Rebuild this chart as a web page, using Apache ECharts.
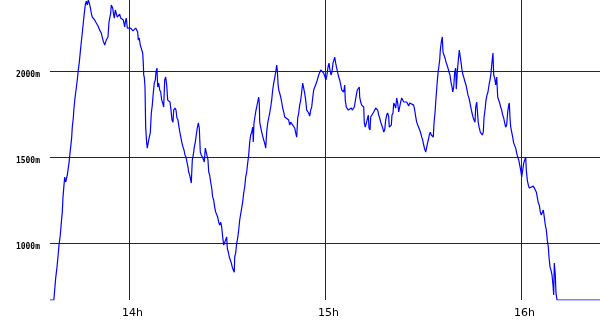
<!DOCTYPE html>
<html>
<head>
<meta charset="utf-8">
<script src="https://cdn.jsdelivr.net/npm/echarts@6/dist/echarts.min.js"></script>
<style>
html,body{margin:0;padding:0;background:#fff;}
#chart{width:600px;height:330px;}
</style>
</head>
<body>
<div id="chart"></div>
<script>
// time in minutes after 13:00
var minutes = [
35.82,37.0,37.25,37.56,37.96,38.26,38.57,38.97,39.27,39.58,
39.80,40.10,40.32,40.62,40.93,41.11,41.42,41.63,41.94,42.15,
42.46,42.64,42.95,43.16,43.47,43.78,44.17,44.48,44.79,45.09,
45.40,45.70,46.01,46.32,46.62,46.93,47.23,47.54,47.85,48.15,
48.46,48.76,49.07,49.50,49.99,50.51,51.03,51.52,52.04,52.56,
52.74,53.05,53.57,53.88,54.40,54.58,55.01,55.32,55.50,55.81,
56.11,56.42,57.15,57.46,58.25,58.68,58.87,59.17,59.48,59.91,
60.52,61.22,61.74,62.05,62.36,62.66,62.85,63.15,63.46,63.89,
64.19,64.38,64.50,64.68,64.90,65.11,65.42,65.60,65.91,66.21,
66.52,66.83,67.13,67.44,67.74,68.05,68.26,68.57,68.78,69.09,
69.40,69.70,70.01,70.32,70.62,70.93,71.23,71.54,71.85,72.55,
72.86,73.16,73.47,73.68,74.08,74.39,74.69,75.00,75.31,75.61,
75.92,76.22,76.53,76.84,77.14,77.45,77.75,78.06,78.27,78.58,
78.89,79.07,79.38,79.68,79.99,80.30,80.60,80.91,81.21,81.52,
81.83,82.13,82.44,82.74,83.05,83.36,83.66,83.97,84.18,84.40,
84.70,85.01,85.32,85.62,85.93,86.23,86.54,86.85,87.15,87.46,
87.76,88.07,88.38,88.68,88.99,89.29,89.60,89.91,90.09,90.40,
90.70,91.01,91.32,91.62,91.93,92.23,92.36,92.66,92.97,93.27,
93.58,93.89,94.50,94.80,95.11,95.42,95.72,96.03,96.33,96.64,
96.95,97.25,97.56,97.87,98.05,98.26,98.57,98.78,99.09,99.40,
99.70,99.89,100.01,100.32,100.62,100.93,101.23,101.54,101.85,102.15,
102.46,102.77,103.07,103.38,103.68,103.99,104.30,104.60,104.91,105.21,
105.40,105.61,105.83,106.13,106.44,106.74,107.05,107.36,107.66,107.97,
108.27,108.89,109.19,109.50,110.11,110.72,111.03,111.34,111.64,111.95,
112.25,112.56,112.87,113.17,113.48,113.78,114.09,114.40,115.01,115.31,
115.62,115.93,116.23,116.54,116.85,117.46,118.07,118.38,118.68,118.99,
119.60,120.00,120.31,120.61,120.92,121.22,121.53,121.84,122.14,122.45,
122.75,122.97,123.27,123.58,124.19,124.50,124.81,125.11,125.72,126.03,
126.21,126.52,126.83,127.13,127.74,128.05,128.36,128.97,129.58,129.89,
130.19,130.50,130.62,130.93,131.23,131.85,132.03,132.34,132.64,133.26,
133.47,133.78,133.99,134.60,134.91,135.52,136.13,136.44,136.74,137.05,
137.36,137.66,137.97,138.27,138.58,138.89,139.19,139.50,139.68,139.99,
140.30,140.51,140.82,141.03,141.34,141.64,141.95,142.26,142.56,143.17,
143.48,144.09,144.40,145.01,145.32,145.62,145.93,146.54,147.15,147.46,
147.77,148.07,148.38,148.68,148.99,149.30,149.60,149.91,150.21,150.52,
150.83,151.13,151.44,151.62,151.93,152.23,152.54,153.15,153.37,153.67,
153.98,154.28,154.59,154.90,155.11,155.30,155.60,155.91,156.12,156.43,
156.73,157.04,157.35,157.65,157.96,158.26,158.57,158.88,159.09,159.40,
159.70,160.01,160.19,160.50,160.81,161.11,161.42,161.63,161.94,162.24,
162.55,162.86,163.16,163.47,163.77,164.08,164.39,164.69,165.00,165.30,
165.61,165.92,166.13,166.44,166.93,167.23,167.54,167.84,168.15,168.46,
168.67,168.98,169.28,169.59,169.89,170.20,170.51,170.81,171.12,171.42,
171.64,171.95,172.25,172.56,172.87,173.17,173.48,173.78,174.09,174.40,
174.70,175.01,175.31,175.62,175.93,176.23,176.42,176.63,176.85,177.15,
177.46,177.76,178.38,178.68,178.99,179.30,179.60,179.91,180.21,180.52,
180.83,181.13,181.44,181.62,181.93,182.24,182.54,183.15,183.77,184.07,
184.38,184.68,184.99,185.30,185.60,185.91,186.21,186.83,187.13,187.44,
187.75,188.05,188.36,188.57,188.88,189.18,189.49,189.79,190.01,190.19,
190.50,190.71,191.02,204.18
];
// altitude in metres
var altitude = [
669,669,727,796,860,919,988,1047,1116,1180,
1267,1337,1384,1355,1366,1395,1405,1465,1523,1558,
1616,1674,1727,1785,1843,1890,1948,2006,2052,2110,
2169,2221,2279,2337,2384,2407,2384,2413,2395,2372,
2337,2314,2308,2297,2279,2262,2238,2221,2180,2151,
2140,2180,2198,2285,2337,2384,2366,2326,2308,2355,
2366,2314,2331,2308,2297,2256,2285,2308,2250,2256,
2250,2233,2233,2250,2256,2227,2180,2192,2151,2140,
2105,2046,1977,1965,1907,1674,1581,1552,1587,1616,
1640,1756,1802,1872,1930,1948,1994,2017,1907,1930,
1890,1878,1831,1814,1791,1948,1965,1919,1831,1820,
1773,1715,1703,1773,1785,1773,1727,1715,1674,1640,
1634,1581,1558,1541,1512,1500,1471,1442,1413,1395,
1366,1349,1483,1512,1558,1587,1628,1669,1698,1669,
1529,1512,1500,1488,1471,1552,1558,1558,1483,1413,
1395,1355,1320,1267,1250,1209,1180,1174,1151,1122,
1105,1122,1093,1035,988,977,988,1035,971,948,
919,913,884,860,843,831,919,942,1000,1029,
1076,1134,1204,1238,1291,1326,1384,1413,1465,1512,
1587,1628,1645,1674,1587,1698,1703,1762,1773,1820,
1849,1814,1703,1698,1645,1640,1599,1581,1552,1645,
1698,1727,1756,1791,1831,1890,1930,1959,1994,2035,
2006,1930,1890,1872,1849,1820,1785,1762,1733,1744,
1727,1715,1686,1703,1686,1669,1640,1616,1727,1756,
1802,1831,1878,1930,1901,1872,1831,1773,1756,1738,
1773,1791,1843,1890,1901,1936,1977,1988,2006,2017,
1988,1965,1948,1977,2023,2046,2006,1977,1994,2046,
2052,2081,2046,2017,1965,1948,1919,1890,1878,1919,
1831,1791,1785,1773,1762,1785,1773,1791,1860,1890,
1901,1907,1849,1820,1802,1791,1698,1674,1669,1744,
1669,1657,1733,1744,1762,1785,1773,1744,1727,1703,
1686,1669,1645,1657,1715,1744,1756,1733,1674,1674,
1686,1744,1756,1814,1802,1785,1843,1814,1762,1820,
1843,1820,1831,1820,1814,1797,1814,1820,1802,1773,
1733,1703,1686,1680,1657,1640,1616,1599,1570,1546,
1529,1523,1587,1599,1628,1645,1628,1616,1698,1756,
1843,1919,1988,1994,2064,2122,2169,2198,2110,2093,
2076,2052,2035,2017,1994,1977,1936,1907,1878,1907,
1994,2017,1895,1994,2064,2122,2128,2052,2006,1977,
1959,1936,1919,1890,1860,1843,1814,1785,1756,1733,
1715,1703,1791,1820,1698,1669,1645,1640,1628,1645,
1727,1773,1831,1860,1878,1919,1948,1988,2052,2105,
1977,1959,1919,1965,1849,1831,1814,1791,1773,1744,
1727,1698,1674,1686,1762,1802,1814,1727,1674,1645,
1616,1581,1552,1523,1500,1483,1453,1424,1384,1378,
1465,1471,1500,1424,1366,1337,1320,1326,1331,1337,
1320,1297,1291,1233,1221,1180,1163,1192,1151,1105,
1076,1017,977,919,860,843,814,756,698,884,
814,709,669,669
];
var hourTicks = [60, 120, 180];          // minutes after 13:00
var hourLabels = ['14h', '15h', '16h'];
var altTicks = [1000, 1500, 2000];

var points = minutes.map(function (m, i) { return [m, altitude[i]]; });

var chart = echarts.init(document.getElementById('chart'), null, {renderer: 'canvas'});
chart.setOption({
  animation: false,
  backgroundColor: '#ffffff',
  grid: {left: 50, right: 0, top: 0, bottom: 30, containLabel: false},
  xAxis: {
    type: 'value',
    min: 35.82,
    max: 204.18,
    axisLine: {show: false},
    axisTick: {show: false, customValues: hourTicks},
    splitLine: {show: true, lineStyle: {color: '#800000', width: 1}},
    axisLabel: {
      customValues: hourTicks,
      formatter: function (v) { return hourLabels[hourTicks.indexOf(v)]; },
      color: '#000',
      fontFamily: 'DejaVu Sans',
      fontSize: 11,
      margin: 8,
      padding: [0, 0, 0, 7]
    }
  },
  yAxis: {
    type: 'value',
    min: 669,
    max: 2413,
    axisLine: {show: false},
    axisTick: {show: false, customValues: altTicks},
    splitLine: {show: true, lineStyle: {color: '#800000', width: 1}},
    axisLabel: {
      customValues: altTicks,
      formatter: function (v) { return v + 'm'; },
      color: '#000',
      fontFamily: 'DejaVu Sans Mono',
      fontWeight: 'bold',
      fontSize: 8,
      margin: 10,
      verticalAlign: 'top'
    }
  },
  series: [{
    type: 'line',
    data: points,
    showSymbol: false,
    symbol: 'none',
    lineStyle: {color: '#0000ff', width: 1.2},
    clip: true
  }]
});
</script>
</body>
</html>
